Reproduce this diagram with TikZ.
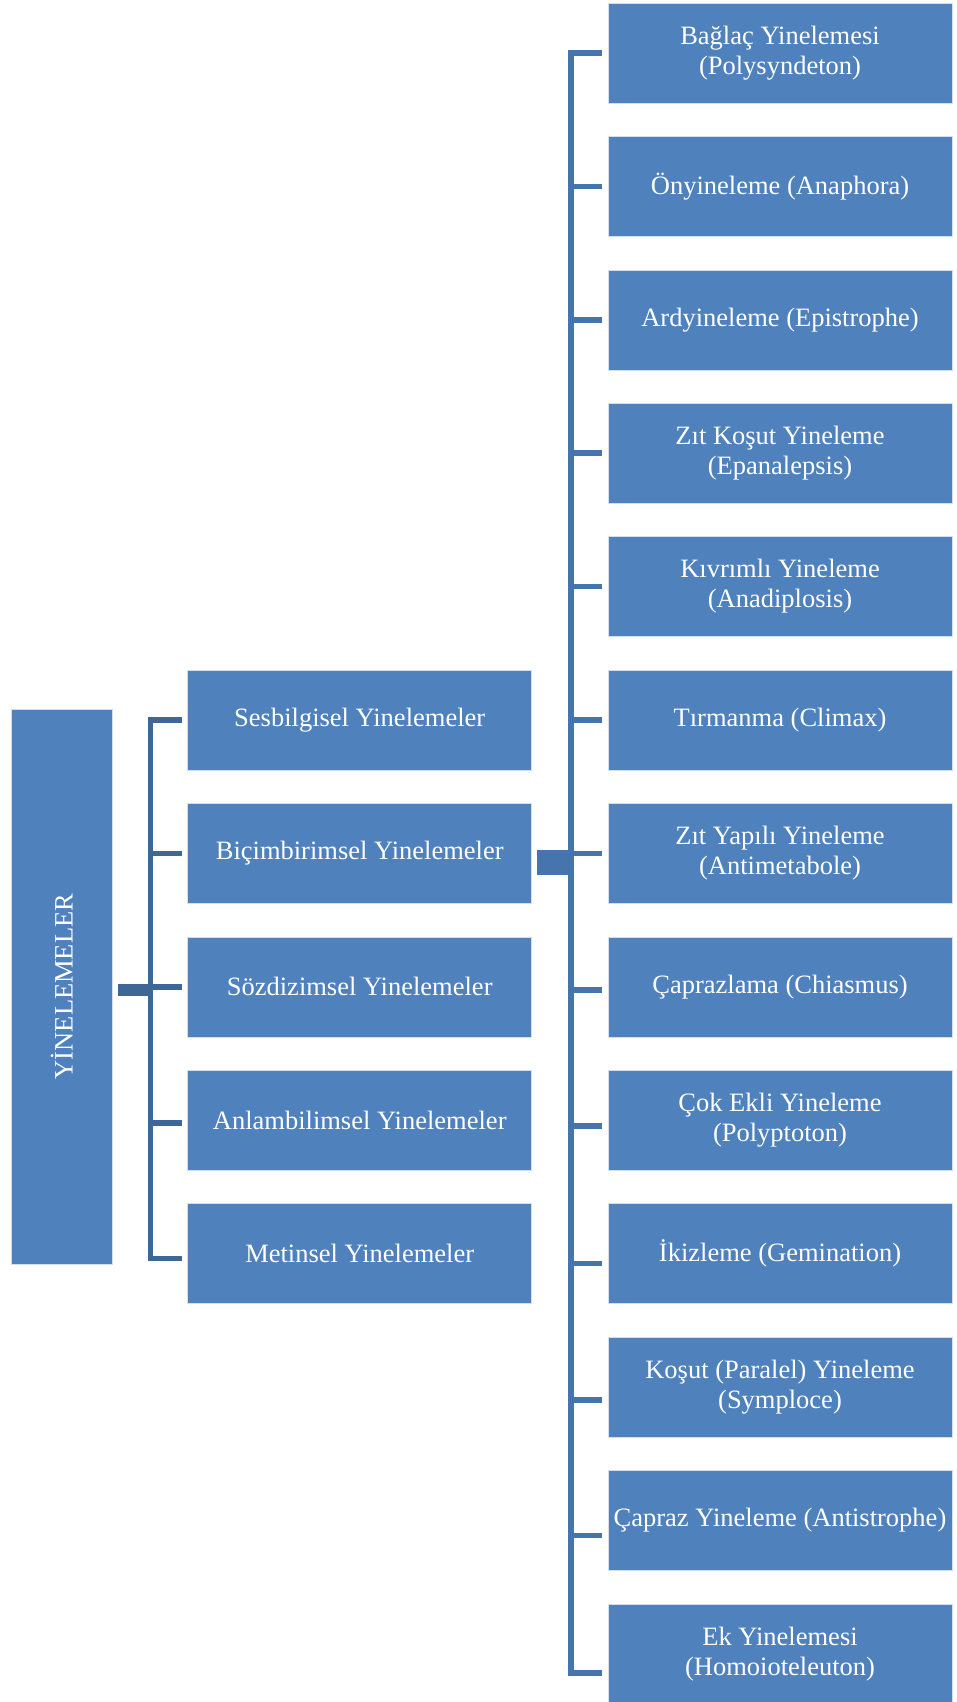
\documentclass[tikz,border=0pt]{standalone}
\usepackage{fontspec}
\setmainfont{Liberation Serif}
\usetikzlibrary{calc}
\definecolor{boxblue}{HTML}{4F81BD}
\definecolor{lline}{HTML}{3E6796}
\definecolor{rline}{HTML}{4674AD}
\begin{document}
\begin{tikzpicture}[x=1pt,y=-1pt,
  box/.style={fill=boxblue, draw=white!75!boxblue, line width=0.5pt, inner sep=0pt,
    minimum width=344pt, minimum height=100pt, text=white, align=center,
    font=\fontsize{26.5}{30}\selectfont},
  lconn/.style={draw=lline, line width=5.5pt, line join=miter},
  rconn/.style={draw=rline, line width=5.5pt, line join=miter}]
\useasboundingbox[fill=white] (0,0) rectangle (957,1702);

% root
\node[box, minimum width=101pt, minimum height=555pt] (L) at (61.75,986.5) {\rotatebox{90}{YİNELEMELER}};

% middle level
\foreach \j/\t in {0/{Sesbilgisel Yinelemeler},1/{Biçimbirimsel Yinelemeler},2/{Sözdizimsel Yinelemeler},3/{Anlambilimsel Yinelemeler},4/{Metinsel Yinelemeler}}
  \node[box] (m\j) at (359.7,{720+133.4*\j}) {\t};

% right level
\foreach \i/\t in {0/{Bağlaç Yinelemesi\\(Polysyndeton)},1/{Önyineleme (Anaphora)},2/{Ardyineleme (Epistrophe)},3/{Zıt Koşut Yineleme\\(Epanalepsis)},4/{Kıvrımlı Yineleme\\(Anadiplosis)},5/{Tırmanma (Climax)},6/{Zıt Yapılı Yineleme\\(Antimetabole)},7/{Çaprazlama (Chiasmus)},8/{Çok Ekli Yineleme\\(Polyptoton)},9/{İkizleme (Gemination)},10/{Koşut (Paralel) Yineleme\\(Symploce)},11/{Çapraz Yineleme (Antistrophe)},12/{Ek Yinelemesi\\(Homoioteleuton)}}
  \node[box] (r\i) at (780,{53+133.4*\i}) {\t};

% left connector
\fill[lline] ($(L.east)+(5,-2.5)$) rectangle ++(33,12);
\draw[lconn] ($(m0.west)+(-5.5,0)$) -- ++(-31.7,0) coordinate (ltop)
  -- ($(m4.west)+(-37.2,5)$) -- ++(31.7,0);
\foreach \j/\o in {1/0,2/0,3/3}
  \draw[lconn] ($(m\j.west)+(-5.5,\o)$) -- ++(-31.7,0);

% right connector
\fill[rline] ($(m1.east)+(5.5,-3.4)$) rectangle ++(34,25);
\draw[rconn] ($(r0.west)+(-6,0)$) -- ++(-31,0) coordinate (rtop)
  -- ($(r12.west)+(-37,19)$) -- ++(31,0);
\foreach \i/\o in {1/0,2/0,3/0,4/0,5/0,6/0,7/3,8/6,9/10,10/13,11/15}
  \draw[rconn] ($(r\i.west)+(-6,\o)$) -- ++(-31,0);
\end{tikzpicture}
\end{document}
